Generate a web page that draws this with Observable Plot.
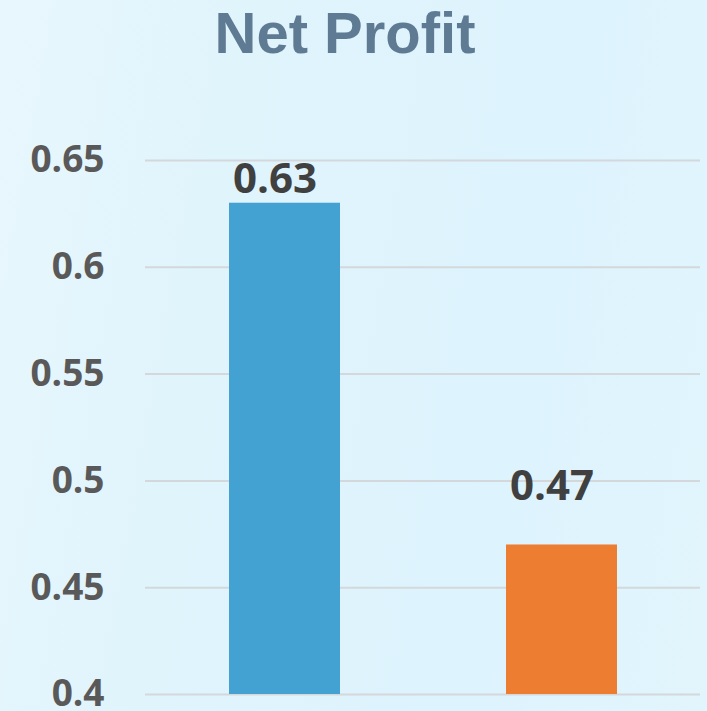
<!DOCTYPE html>
<html>
<head>
<meta charset="utf-8">
<script src="https://cdn.jsdelivr.net/npm/d3@7"></script>
<script src="https://cdn.jsdelivr.net/npm/@observablehq/plot@0.6"></script>
<style>
  html, body { margin: 0; padding: 0; }
  body {
    width: 707px; height: 711px; overflow: hidden; position: relative;
    background: linear-gradient(100deg, #e8f7fd 0%, #e0f4fc 30%, #ddf3fd 70%, #e2f5fd 100%);
  }
  #title {
    position: absolute; top: 4px; left: 0; width: 690px; text-align: center;
    font-family: "Liberation Sans", Arial, sans-serif; font-weight: bold;
    font-size: 58px; line-height: 58px; color: #5f7b93;
  }
  #chart { position: absolute; top: 100px; left: 0; }
</style>
</head>
<body>
<div id="title">Net Profit</div>
<div id="chart"></div>
<script>
const categories = ["A", "B"];
const values = [0.63, 0.47];
const barColors = ["#43a2d1", "#ed7d31"];
const yTicks = [0.4, 0.45, 0.5, 0.55, 0.6, 0.65];
const yTickLabels = ["0.4", "0.45", "0.5", "0.55", "0.6", "0.65"];
const yDomain = [0.4, 0.65];

const data = categories.map((c, i) => ({category: c, value: values[i], color: barColors[i]}));

const labelStyle = {
  x: "category", y: "value", text: d => String(d.value),
  dx: -10, lineAnchor: "bottom", fontSize: 42, fontWeight: "bold", fill: "#404040"
};

const chart = Plot.plot({
  width: 707,
  height: 611,
  marginTop: 60,
  marginBottom: 17,
  marginLeft: 145,
  marginRight: 7,
  style: {background: "transparent", fontFamily: "'Open Sans', sans-serif", color: "#595959", overflow: "visible"},
  x: {domain: categories, paddingInner: 0.6, paddingOuter: 0.3, axis: null},
  y: {domain: yDomain},
  marks: [
    Plot.ruleY(yTicks, {stroke: "#d4d8da", strokeWidth: 2}),
    Plot.axisY({
      ticks: yTicks,
      tickSize: 0,
      tickPadding: 41,
      tickFormat: d => yTickLabels[yTicks.indexOf(d)],
      fontSize: 37,
      fontWeight: "bold",
      fill: "#595959",
      label: null
    }),
    Plot.barY(data, {x: "category", y1: yDomain[0], y2: "value", fill: "color"}),
    Plot.text(data.slice(0, 1), {...labelStyle, dy: -10}),
    Plot.text(data.slice(1), {...labelStyle, dy: -45})
  ]
});
document.getElementById("chart").appendChild(chart);
</script>
</body>
</html>
